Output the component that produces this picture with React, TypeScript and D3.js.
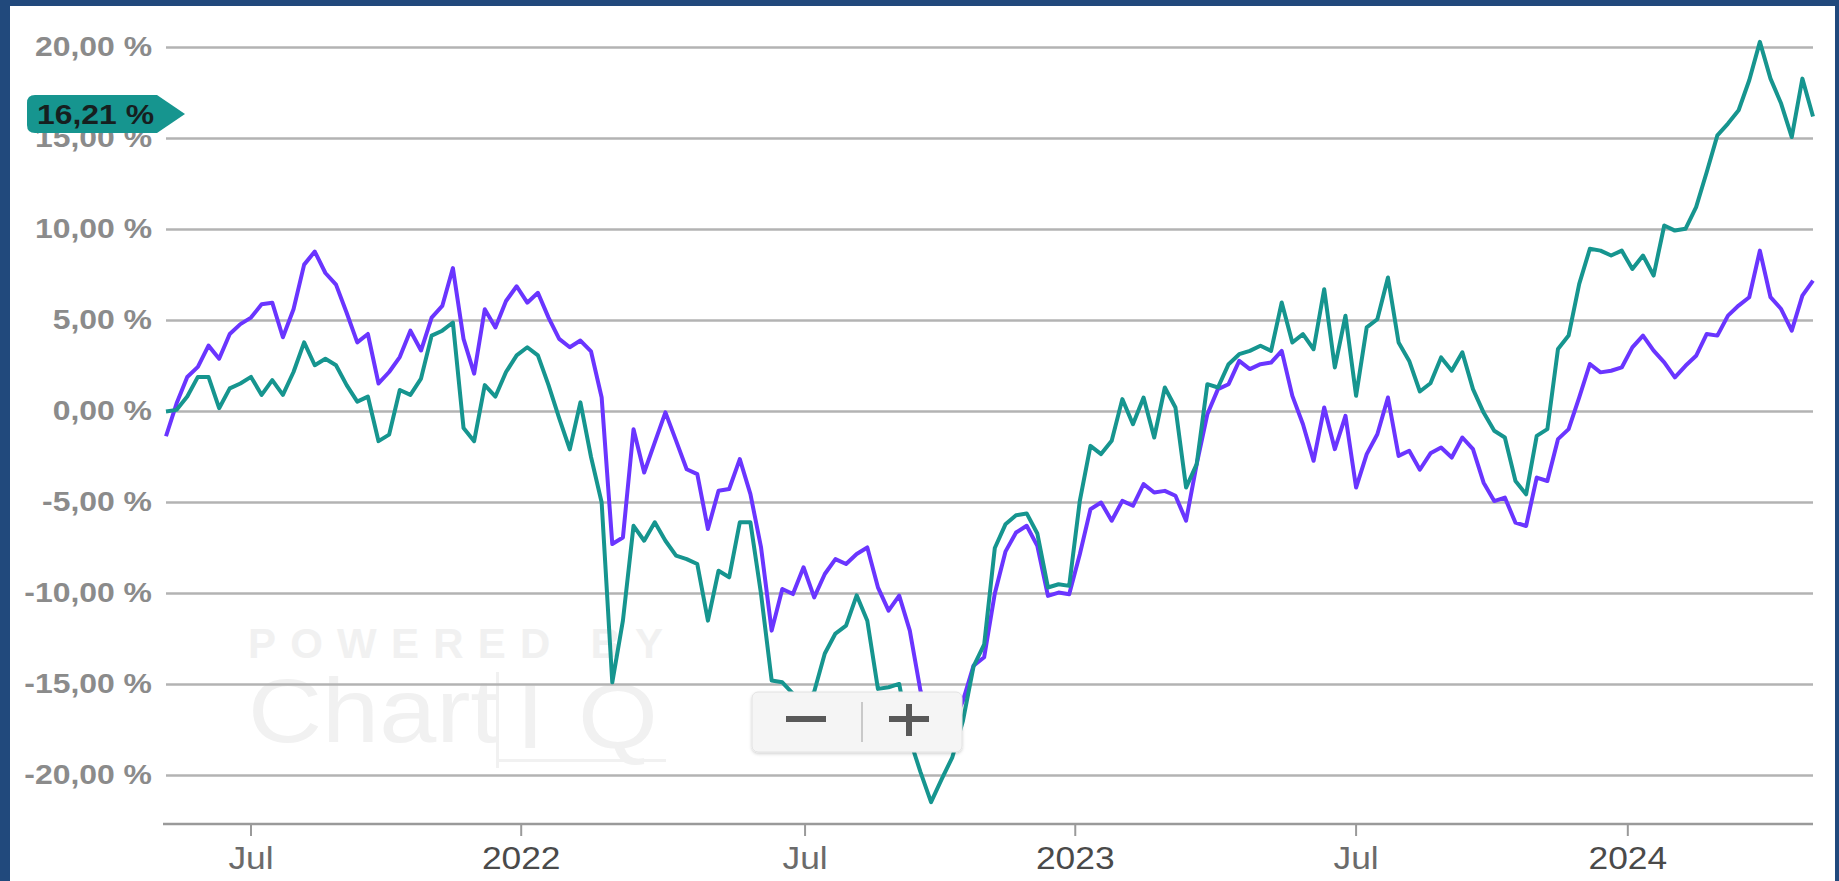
import React from "react";
import * as d3 from "d3";

// Weekly observations (first one on this date), values in %
const START_DATE = "2021-05-14";

const PURPLE_VALUES = [
  -1.36, 0.45, 1.9, 2.45, 3.62, 2.9, 4.26, 4.8, 5.16, 5.89,
  5.98, 4.08, 5.62, 8.07, 8.79, 7.61, 6.97, 5.43, 3.8, 4.26,
  1.54, 2.17, 2.99, 4.44, 3.35, 5.16, 5.8, 7.88, 3.99, 2.08,
  5.62, 4.62, 6.07, 6.88, 5.98, 6.52, 5.16, 3.99, 3.53, 3.9,
  3.3, 0.77, -7.28, -6.92, -0.97, -3.35, -1.7, -0.05, -1.6, -3.17,
  -3.44, -6.46, -4.35, -4.26, -2.62, -4.54, -7.47, -12.04, -9.75, -10.03,
  -8.56, -10.21, -8.93, -8.11, -8.38, -7.83, -7.47, -9.66, -10.94, -10.12,
  -12.04, -15.33, -17.5, -18.3, -17.2, -15.9, -13.96, -13.5, -10.0, -7.7,
  -6.65, -6.28, -7.38, -10.13, -9.95, -10.04, -7.84, -5.37, -5.0, -6.0,
  -4.91, -5.18, -3.99, -4.45, -4.36, -4.63, -6.0, -2.89, -0.15, 1.23,
  1.5, 2.78, 2.33, 2.6, 2.69, 3.33, 0.86, -0.7, -2.71, 0.22,
  -2.07, -0.24, -4.18, -2.34, -1.25, 0.77, -2.44, -2.16, -3.2, -2.3,
  -1.98, -2.53, -1.43, -2.07, -3.91, -4.92, -4.73, -6.11, -6.29, -3.63,
  -3.82, -1.52, -0.97, 0.77, 2.61, 2.15, 2.24, 2.42, 3.52, 4.17,
  3.34, 2.7, 1.87, 2.51, 3.06, 4.26, 4.17, 5.27, 5.82, 6.28,
  8.84, 6.28, 5.63, 4.44, 6.37, 7.19,
];

const TEAL_VALUES = [
  0, 0.09, 0.82, 1.9, 1.9, 0.18, 1.27, 1.54, 1.9, 0.91,
  1.72, 0.91, 2.17, 3.8, 2.54, 2.9, 2.54, 1.45, 0.54, 0.82,
  -1.63, -1.27, 1.18, 0.91, 1.81, 4.17, 4.44, 4.89, -0.91, -1.63,
  1.45, 0.82, 2.17, 3.08, 3.53, 3.08, 1.45, -0.36, -2.08, 0.5,
  -2.5, -5.0, -14.88, -11.49, -6.28, -7.1, -6.09, -7.1, -7.92, -8.11,
  -8.38, -11.49, -8.75, -9.11, -6.09, -6.09, -10.03, -14.78, -14.88, -15.5,
  -16.0, -15.4, -13.3, -12.2, -11.77, -10.1, -11.5, -15.24, -15.15, -14.97,
  -18.0, -19.8, -21.46, -20.2, -19.0, -17.0, -14.0, -12.8, -7.5, -6.2,
  -5.7, -5.6, -6.7, -9.67, -9.49, -9.58, -4.91, -1.89, -2.34, -1.61,
  0.68, -0.7, 0.77, -1.43, 1.32, 0.22, -4.18, -2.89, 1.5, 1.32,
  2.6, 3.15, 3.33, 3.61, 3.33, 5.99, 3.79, 4.25, 3.42, 6.72,
  2.42, 5.26, 0.86, 4.62, 5.07, 7.36, 3.79, 2.78, 1.1, 1.55,
  2.97, 2.24, 3.25, 1.23, -0.06, -1.06, -1.43, -3.82, -4.55, -1.34,
  -0.97, 3.43, 4.17, 7.01, 8.94, 8.84, 8.57, 8.84, 7.83, 8.57,
  7.47, 10.22, 9.94, 10.04, 11.23, 13.16, 15.17, 15.82, 16.55, 18.2,
  20.31, 18.29, 16.92, 15.08, 18.29, 16.21,
];

const Y_TICKS = [-20, -15, -10, -5, 0, 5, 10, 15, 20];
const X_TICK_DATES = ["2021-07-09", "2022-01-03", "2022-07-09", "2023-01-03", "2023-07-07", "2024-01-02"];
const X_TICK_LABELS = ["Jul", "2022", "Jul", "2023", "Jul", "2024"];

const FONT = "'Liberation Sans', Arial, Helvetica, sans-serif";
const PURPLE = "#6a35ff";
const TEAL = "#16958f";
const SX = 1.14; // horizontal stretch of the screenshot text

export default function App() {
  const W = 1839;
  const H = 881;
  const parse = d3.utcParse("%Y-%m-%d");
  const start = parse(START_DATE) as Date;
  const dates = TEAL_VALUES.map((_, i) => d3.utcWeek.offset(start, i));

  const x = d3.scaleUtc().domain([dates[0], dates[dates.length - 1]]).range([166, 1813]);
  const y = d3.scaleLinear().domain([-20, 20]).range([775.5, 47.5]);

  const locale = d3.formatLocale({
    decimal: ",",
    thousands: ".",
    grouping: [3],
    currency: ["", " €"],
    minus: "-",
  });
  const fmt = (v: number) => locale.format(".2f")(v) + " %";

  const line = d3
    .line<number>()
    .x((_, i) => x(dates[i]))
    .y((d) => y(d));

  const last = TEAL_VALUES[TEAL_VALUES.length - 1];
  const by = y(last) - 2.5;
  const badgePath = `M 35 ${by - 19} L 157 ${by - 19} L 185 ${by} L 157 ${by + 19} L 35 ${by + 19} Q 27 ${by + 19} 27 ${by + 11} L 27 ${by - 11} Q 27 ${by - 19} 35 ${by - 19} Z`;

  const axisY = 824;

  return (
    <svg
      width={W}
      height={H}
      style={{ position: "absolute", left: 0, top: 0, display: "block" }}
      fontFamily={FONT}
    >
      <defs>
        <filter id="shadow" x="-10%" y="-20%" width="120%" height="150%">
          <feDropShadow dx="0" dy="1.5" stdDeviation="1.5" floodColor="#000" floodOpacity="0.18" />
        </filter>
      </defs>
      <rect x={0} y={0} width={W} height={H} fill="#21497c" />
      <rect x={10} y={6} width={1825} height={H - 6} fill="#ffffff" />

      {/* watermark */}
      <g fill="#f1f1f1">
        <text x={248} y={658} fontSize={42} fontWeight="bold" textLength={415} lengthAdjust="spacing">
          POWERED BY
        </text>
        <text transform={`translate(248,742) scale(${SX},1)`} fontSize={90}>
          Chart
        </text>
        <text transform={`translate(516,748) scale(${SX},1)`} fontSize={90}>
          I
        </text>
        <text transform={`translate(578,748) scale(${SX},1)`} fontSize={90}>
          Q
        </text>
        <rect x={496} y={672} width={3} height={96} />
        <rect x={496} y={759} width={170} height={3} />
      </g>

      {/* grid */}
      {Y_TICKS.map((t) => (
        <line key={"g" + t} x1={166} x2={1813} y1={y(t)} y2={y(t)} stroke="#b3b3b3" strokeWidth={2.4} />
      ))}

      {/* y labels */}
      {Y_TICKS.map((t) => (
        <text
          key={"yl" + t}
          transform={`translate(152,${y(t) + 8}) scale(${SX},1)`}
          textAnchor="end"
          fontSize={28}
          fontWeight="bold"
          fill="#8b8b8b"
        >
          {fmt(t)}
        </text>
      ))}

      {/* x axis */}
      <line x1={163} x2={1813} y1={axisY} y2={axisY} stroke="#9a9a9a" strokeWidth={2.4} />
      {X_TICK_DATES.map((d, i) => {
        const xx = x(parse(d) as Date);
        const isYear = X_TICK_LABELS[i] !== "Jul";
        return (
          <g key={"xt" + d}>
            <line x1={xx} x2={xx} y1={axisY} y2={axisY + 12} stroke="#9a9a9a" strokeWidth={2} />
            <text
              transform={`translate(${xx},869) scale(${SX},1)`}
              textAnchor="middle"
              fontSize={31}
              fill={isYear ? "#4a4a4a" : "#6b6b6b"}
            >
              {X_TICK_LABELS[i]}
            </text>
          </g>
        );
      })}

      {/* series */}
      <path d={line(PURPLE_VALUES) || ""} fill="none" stroke={PURPLE} strokeWidth={4} strokeLinejoin="round" />
      <path d={line(TEAL_VALUES) || ""} fill="none" stroke={TEAL} strokeWidth={4} strokeLinejoin="round" />

      {/* last value badge */}
      <path d={badgePath} fill={TEAL} />
      <text transform={`translate(37,${by + 10}) scale(${SX},1)`} fontSize={28} fontWeight="bold" fill="#161f1f">
        {fmt(last)}
      </text>

      {/* zoom control */}
      <g>
        <rect x={752} y={692} width={210} height={60} rx={6} fill="#f5f5f5" stroke="#e2e2e2" strokeWidth={1} filter="url(#shadow)" />
        <rect x={786} y={716} width={40} height={6} fill="#595959" />
        <line x1={862} x2={862} y1={702} y2={742} stroke="#c9c9c9" strokeWidth={2} />
        <rect x={889} y={716} width={40} height={6} fill="#595959" />
        <rect x={906} y={704} width={6} height={32} fill="#595959" />
      </g>
    </svg>
  );
}
